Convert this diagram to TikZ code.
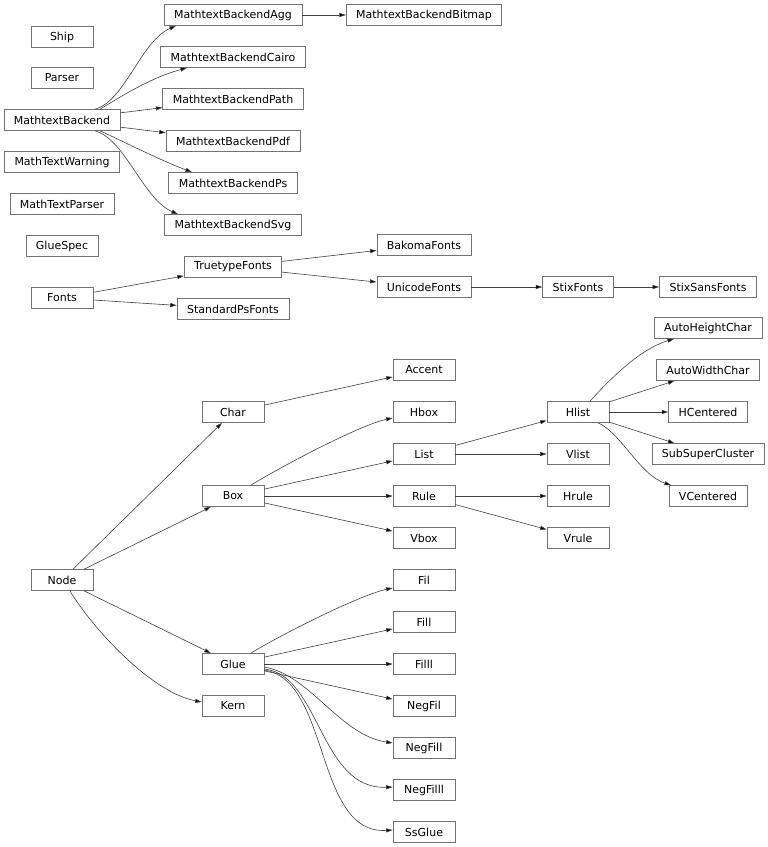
\documentclass[tikz,border=0pt]{standalone}
\usepackage{fontspec}
\setmainfont{DejaVu Sans}
\usepackage{tikz}
\usetikzlibrary{arrows.meta}

\begin{document}
\begin{tikzpicture}[x=1pt,y=-1pt,
            cls/.style={draw=black!55, line width=0.7pt, minimum width=62pt, minimum height=21pt,
                        inner xsep=10pt, inner ysep=0pt, font=\fontsize{11}{13}\selectfont},
            inh/.style={draw=black!75, line width=0.6pt, -{Triangle[length=6.5pt,width=4pt,fill=black]}}]
        \useasboundingbox (0,0) rectangle (768,847);
        % left column
        \node[cls] (ship)   at (62,37)  {Ship};
        \node[cls] (parser) at (62,78)  {Parser};
        \node[cls] (mtb)    at (62,120) {MathtextBackend};
        \node[cls] (mtw)    at (62,162) {MathTextWarning};
        \node[cls] (mtp)    at (62,204) {MathTextParser};
        \node[cls] (gspec)  at (62,246) {GlueSpec};
        \node[cls] (fonts)  at (62,298) {Fonts};
        \node[cls] (node)   at (62,580) {Node};
        % second column
        \node[cls] (agg)   at (233,15)  {MathtextBackendAgg};
        \node[cls] (cairo) at (233,57)  {MathtextBackendCairo};
        \node[cls] (path)  at (233,99)  {MathtextBackendPath};
        \node[cls] (pdf)   at (233,141) {MathtextBackendPdf};
        \node[cls] (ps)    at (233,183) {MathtextBackendPs};
        \node[cls] (svg)   at (233,225) {MathtextBackendSvg};
        \node[cls] (ttf)   at (233,267) {TruetypeFonts};
        \node[cls] (stdps) at (233,309) {StandardPsFonts};
        \node[cls] (char)  at (233,412) {Char};
        \node[cls] (box)   at (233,496) {Box};
        \node[cls] (glue)  at (233,664) {Glue};
        \node[cls] (kern)  at (233,706) {Kern};
        % third column
        \node[cls] (bitmap)   at (424,15)  {MathtextBackendBitmap};
        \node[cls] (bakoma)   at (424,245) {BakomaFonts};
        \node[cls] (unicode)  at (424,287) {UnicodeFonts};
        \node[cls] (accent)   at (424,370) {Accent};
        \node[cls] (hbox)     at (424,412) {Hbox};
        \node[cls] (list)     at (424,454) {List};
        \node[cls] (rule)     at (424,496) {Rule};
        \node[cls] (vbox)     at (424,538) {Vbox};
        \node[cls] (fil)      at (424,580) {Fil};
        \node[cls] (fill)     at (424,622) {Fill};
        \node[cls] (filll)    at (424,664) {Filll};
        \node[cls] (negfil)   at (424,706) {NegFil};
        \node[cls] (negfill)  at (424,748) {NegFill};
        \node[cls] (negfilll) at (424,790) {NegFilll};
        \node[cls] (ssglue)   at (424,832) {SsGlue};
        % fourth and fifth columns
        \node[cls] (stix)  at (578,287) {StixFonts};
        \node[cls] (hlist) at (578,412) {Hlist};
        \node[cls] (vlist) at (578,454) {Vlist};
        \node[cls] (hrule) at (578,496) {Hrule};
        \node[cls] (vrule) at (578,538) {Vrule};
        \node[cls] (stixsans) at (708,287) {StixSansFonts};
        \node[cls] (ahc)      at (708,328) {AutoHeightChar};
        \node[cls] (awc)      at (708,370) {AutoWidthChar};
        \node[cls] (hcent)    at (708,412) {HCentered};
        \node[cls] (ssc)      at (708,454) {SubSuperCluster};
        \node[cls] (vcent)    at (708,496) {VCentered};
        % straight edges
        \draw[inh] (agg) -- (bitmap); \draw[inh] (mtb) -- (path); \draw[inh] (mtb) -- (pdf);
        \draw[inh] (fonts) -- (ttf); \draw[inh] (fonts) -- (stdps);
        \draw[inh] (ttf) -- (bakoma); \draw[inh] (ttf) -- (unicode);
        \draw[inh] (unicode) -- (stix); \draw[inh] (stix) -- (stixsans);
        \draw[inh] (node) -- (char); \draw[inh] (node) -- (box); \draw[inh] (node) -- (glue);
        \draw[inh] (char) -- (accent); \draw[inh] (box) -- (list);
        \draw[inh] (box) -- (rule); \draw[inh] (box) -- (vbox);
        \draw[inh] (list) -- (hlist); \draw[inh] (list) -- (vlist);
        \draw[inh] (rule) -- (hrule); \draw[inh] (rule) -- (vrule);
        \draw[inh] (hlist) -- (awc); \draw[inh] (hlist) -- (hcent); \draw[inh] (hlist) -- (ssc);
        \draw[inh] (glue) -- (fill); \draw[inh] (glue) -- (filll); \draw[inh] (glue) -- (negfil);
        % curved edges
        \draw[inh] ([xshift=33pt]mtb.north) .. controls +(30,-8) and +(-35,15) .. ([xshift=-57pt]agg.south);
        \draw[inh] ([xshift=38pt]mtb.north) .. controls +(20,-12) and +(-37,10) .. ([xshift=-46pt]cairo.south);
        \draw[inh] ([xshift=38pt]mtb.south) .. controls +(20,9) and +(-32,-12) .. ([xshift=-41pt]ps.north);
        \draw[inh] ([xshift=33pt]mtb.south) .. controls +(30,8) and +(-35,-15) .. ([xshift=-55pt]svg.north);
        \draw[inh] ([xshift=8pt]node.south) .. controls +(20,34) and +(-52,-10) .. ([yshift=4pt]kern.west);
        \draw[inh] ([xshift=18pt]box.north) .. controls +(29,-18) and +(-33,7) .. ([yshift=-6pt]hbox.west);
        \draw[inh] ([xshift=12pt]hlist.north) .. controls +(20,-22) and +(-34,10) .. ([xshift=-34pt]ahc.south);
        \draw[inh] ([xshift=20pt]hlist.south) .. controls +(22,9) and +(-31,-10) .. ([xshift=-37pt]vcent.north);
        \draw[inh] ([xshift=18pt]glue.north) .. controls +(29,-18) and +(-33,7) .. ([yshift=-8pt]fil.west);
        \draw[inh] ([yshift=-3pt]glue.east) .. controls +(46,8) and +(-53,-8) .. ([yshift=5pt]negfill.west);
        \draw[inh] ([yshift=-5pt]glue.east) .. controls +(56,6) and +(-73,3) .. ([yshift=3pt]negfilll.west);
        \draw[inh] ([yshift=-6pt]glue.east) .. controls +(66,10) and +(-78,5) .. ([yshift=2pt]ssglue.west);
      \end{tikzpicture}
\end{document}
